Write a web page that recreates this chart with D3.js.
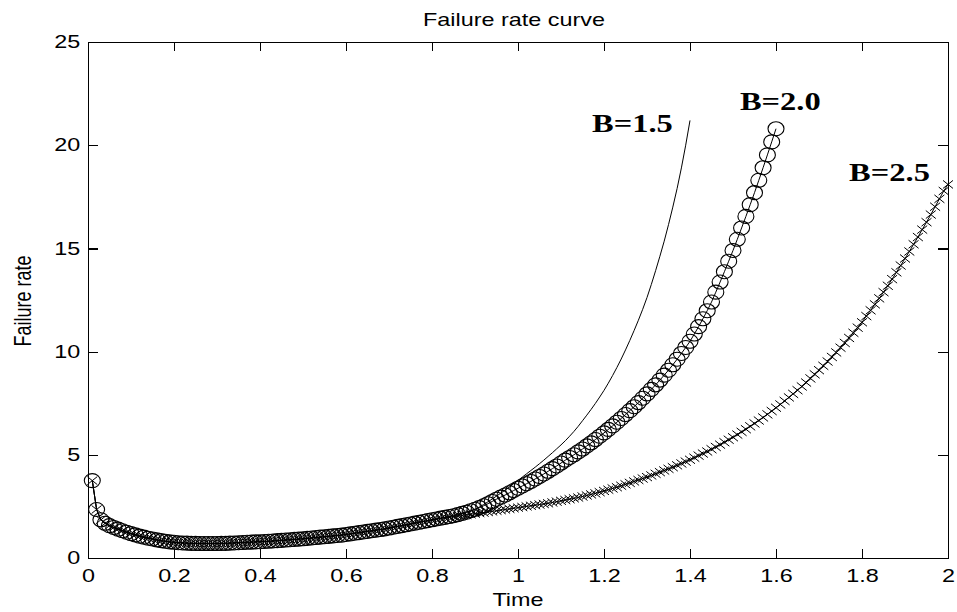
<!DOCTYPE html>
<html>
<head>
<meta charset="utf-8">
<script src="https://cdn.jsdelivr.net/npm/d3@7"></script>
<style>
  body { margin: 0; background: #fff; }
  .axis path, .axis line { stroke: #000; stroke-width: 1.2px; shape-rendering: crispEdges; }
  .axis text { font-family: "Liberation Sans", Arial, sans-serif; font-size: 18px; fill: #000; }
  .lbl { font-family: "Liberation Sans", Arial, sans-serif; font-size: 18px; fill: #000; }
  .blbl { font-family: "Liberation Serif", "Times New Roman", serif; font-size: 25px; font-weight: bold; fill: #000; }
</style>
</head>
<body>
<div id="chart"></div>
<script>

// time grid: samples every 0.01 starting at 0.01
var tStep = 0.01;

// failure rate, t = 0.01 .. 0.80 (all three curves overlap here)
var earlyRate = [
  3.75, 2.35, 1.85, 1.68, 1.57, 1.48, 1.40, 1.32, 1.25, 1.18,
  1.12, 1.06, 1.01, 0.96, 0.92, 0.88, 0.84, 0.81, 0.78, 0.76,
  0.74, 0.73, 0.72, 0.71, 0.71, 0.70, 0.70, 0.70, 0.70, 0.70,
  0.71, 0.71, 0.72, 0.73, 0.74, 0.75, 0.76, 0.77, 0.78, 0.79,
  0.80, 0.81, 0.825, 0.84, 0.855, 0.87, 0.885, 0.90, 0.915, 0.93,
  0.95, 0.97, 0.99, 1.01, 1.03, 1.05, 1.07, 1.09, 1.11, 1.14,
  1.17, 1.20, 1.23, 1.26, 1.29, 1.32, 1.35, 1.38, 1.41, 1.45,
  1.49, 1.53, 1.57, 1.61, 1.65, 1.69, 1.73, 1.77, 1.81, 1.85
];

// B=1.5, t = 0.81 .. 1.40
var tailB15 = [
  1.89, 1.93, 1.97, 2.01, 2.05, 2.10, 2.16, 2.22, 2.28, 2.36,
  2.47, 2.59, 2.72, 2.86, 3.00, 3.14, 3.29, 3.44, 3.60, 3.76,
  3.92, 4.08, 4.24, 4.40, 4.57, 4.74, 4.92, 5.10, 5.29, 5.48,
  5.68, 5.90, 6.13, 6.38, 6.65, 6.92, 7.20, 7.49, 7.80, 8.12,
  8.47, 8.84, 9.23, 9.64, 10.08, 10.54, 11.02, 11.52, 12.05, 12.62,
  13.25, 13.92, 14.62, 15.35, 16.15, 17.00, 17.90, 18.90, 20.00, 21.20
];

// B=2.0, t = 0.81 .. 1.60
var tailB20 = [
  1.89, 1.93, 1.97, 2.01, 2.05, 2.10, 2.16, 2.22, 2.29, 2.36,
  2.44, 2.53, 2.63, 2.74, 2.85, 2.95, 3.05, 3.16, 3.27, 3.38,
  3.49, 3.60, 3.71, 3.83, 3.95, 4.07, 4.20, 4.33, 4.46, 4.60,
  4.74, 4.87, 5.00, 5.14, 5.28, 5.43, 5.58, 5.74, 5.90, 6.06,
  6.23, 6.40, 6.58, 6.76, 6.95, 7.14, 7.33, 7.53, 7.74, 7.95,
  8.17, 8.39, 8.62, 8.86, 9.10, 9.36, 9.63, 9.91, 10.20, 10.50,
  10.85, 11.21, 11.59, 11.98, 12.40, 12.88, 13.37, 13.87, 14.38, 14.90,
  15.44, 15.99, 16.55, 17.12, 17.70, 18.30, 18.91, 19.53, 20.16, 20.80
];

// B=2.5, t = 0.81 .. 2.00
var tailB25 = [
  1.88, 1.91, 1.94, 1.97, 2.00, 2.03, 2.06, 2.09, 2.12, 2.15,
  2.18, 2.20, 2.23, 2.26, 2.29, 2.32, 2.35, 2.38, 2.41, 2.44,
  2.47, 2.50, 2.53, 2.56, 2.59, 2.62, 2.65, 2.69, 2.73, 2.77,
  2.81, 2.85, 2.89, 2.93, 2.98, 3.03, 3.08, 3.13, 3.19, 3.25,
  3.31, 3.37, 3.43, 3.50, 3.57, 3.64, 3.71, 3.78, 3.85, 3.92,
  4.00, 4.08, 4.16, 4.24, 4.32, 4.40, 4.49, 4.58, 4.67, 4.76,
  4.86, 4.96, 5.06, 5.16, 5.27, 5.38, 5.49, 5.61, 5.73, 5.85,
  5.98, 6.11, 6.24, 6.38, 6.52, 6.66, 6.81, 6.96, 7.12, 7.28,
  7.44, 7.61, 7.78, 7.95, 8.13, 8.31, 8.50, 8.70, 8.90, 9.10,
  9.31, 9.52, 9.74, 9.96, 10.19, 10.42, 10.66, 10.91, 11.16, 11.42,
  11.72, 12.00, 12.29, 12.58, 12.88, 13.19, 13.51, 13.84, 14.17, 14.51,
  14.85, 15.20, 15.55, 15.91, 16.27, 16.64, 17.02, 17.40, 17.78, 18.10
];

var seriesNames = ["B=1.5", "B=2.0", "B=2.5"];
// where each curve label starts, in data units (time, rate)
var labelAt = [[1.172, 20.65], [1.516, 21.7], [1.77, 18.25]];
var xTicks = [0, 0.2, 0.4, 0.6, 0.8, 1, 1.2, 1.4, 1.6, 1.8, 2];
var yTicks = [0, 5, 10, 15, 20, 25];

// the picture is stretched sideways, so text gets widened too
var stretch = 1.3;

// set the dimensions of the canvas
var margin = {top: 42, right: 9, bottom: 54, left: 88},
    width = 957 - margin.left - margin.right,
    height = 612 - margin.top - margin.bottom;

var x = d3.scaleLinear().domain([0, 2]).range([0, width]);
var y = d3.scaleLinear().domain([0, 25]).range([height, 0]);

var svg = d3.select("#chart")
  .append("svg")
  .attr("width", 957)
  .attr("height", 612)
  .append("g")
  .attr("transform", "translate(" + margin.left + "," + margin.top + ")");

function toPoints(rates) {
  return rates.map(function(v, i) { return {t: +((i + 1) * tStep).toFixed(2), v: v}; });
}

var b15 = toPoints(earlyRate.concat(tailB15));
var b20 = toPoints(earlyRate.concat(tailB20));
var b25 = toPoints(earlyRate.concat(tailB25));

var line = d3.line()
  .x(function(d) { return x(d.t); })
  .y(function(d) { return y(d.v); });

// B=1.5 : plain line
svg.append("path")
  .datum(b15)
  .attr("fill", "none")
  .attr("stroke", "#000")
  .attr("stroke-width", 1)
  .attr("d", line);

// B=2.0 : line with circles
svg.append("path")
  .datum(b20)
  .attr("fill", "none")
  .attr("stroke", "#000")
  .attr("stroke-width", 1)
  .attr("d", line);

svg.selectAll("ellipse.b20")
  .data(b20)
  .enter()
  .append("ellipse")
  .attr("class", "b20")
  .attr("cx", function(d) { return x(d.t); })
  .attr("cy", function(d) { return y(d.v); })
  .attr("rx", 8)
  .attr("ry", 7)
  .attr("fill", "none")
  .attr("stroke", "#000")
  .attr("stroke-width", 1.1);

// B=2.5 : line with x marks
svg.append("path")
  .datum(b25)
  .attr("fill", "none")
  .attr("stroke", "#000")
  .attr("stroke-width", 1)
  .attr("d", line);

svg.selectAll("path.b25")
  .data(b25)
  .enter()
  .append("path")
  .attr("class", "b25")
  .attr("transform", function(d) { return "translate(" + x(d.t) + "," + y(d.v) + ")"; })
  .attr("d", "M-5,-4L5,4M-5,4L5,-4")
  .attr("fill", "none")
  .attr("stroke", "#000")
  .attr("stroke-width", 1);

// axes with inward ticks on all four sides
svg.append("g")
  .attr("class", "axis")
  .attr("transform", "translate(0," + height + ")")
  .call(d3.axisBottom(x).tickValues(xTicks).tickSize(-9).tickSizeOuter(0).tickPadding(11).tickFormat(d3.format("")))
  .selectAll("text")
  .attr("transform", "scale(" + stretch + ",1)");

svg.append("g")
  .attr("class", "axis")
  .call(d3.axisTop(x).tickValues(xTicks).tickSize(-9).tickSizeOuter(0).tickFormat(""));

svg.append("g")
  .attr("class", "axis")
  .call(d3.axisLeft(y).tickValues(yTicks).tickSize(-10).tickSizeOuter(0).tickPadding(6))
  .selectAll("text")
  .attr("transform", "scale(" + stretch + ",1)");

svg.append("g")
  .attr("class", "axis")
  .attr("transform", "translate(" + width + ",0)")
  .call(d3.axisRight(y).tickValues(yTicks).tickSize(-10).tickSizeOuter(0).tickFormat(""));

// title and axis labels
function addText(cls, px, py, str, extra) {
  return svg.append("text")
    .attr("class", cls)
    .attr("text-anchor", "middle")
    .attr("transform", "translate(" + px + "," + py + ") scale(" + stretch + ",1)" + (extra || ""))
    .text(str);
}

addText("lbl", width / 2 - 4, 26 - margin.top, "Failure rate curve");
addText("lbl", width / 2, 606 - margin.top, "Time");
addText("lbl", 31 - margin.left, 301 - margin.top, "Failure rate", " rotate(-90)");

// curve labels
seriesNames.forEach(function(name, i) {
  svg.append("text")
    .attr("class", "blbl")
    .attr("transform", "translate(" + x(labelAt[i][0]) + "," + y(labelAt[i][1]) + ") scale(" + stretch + ",1)")
    .text(name);
});

</script>
</body>
</html>
